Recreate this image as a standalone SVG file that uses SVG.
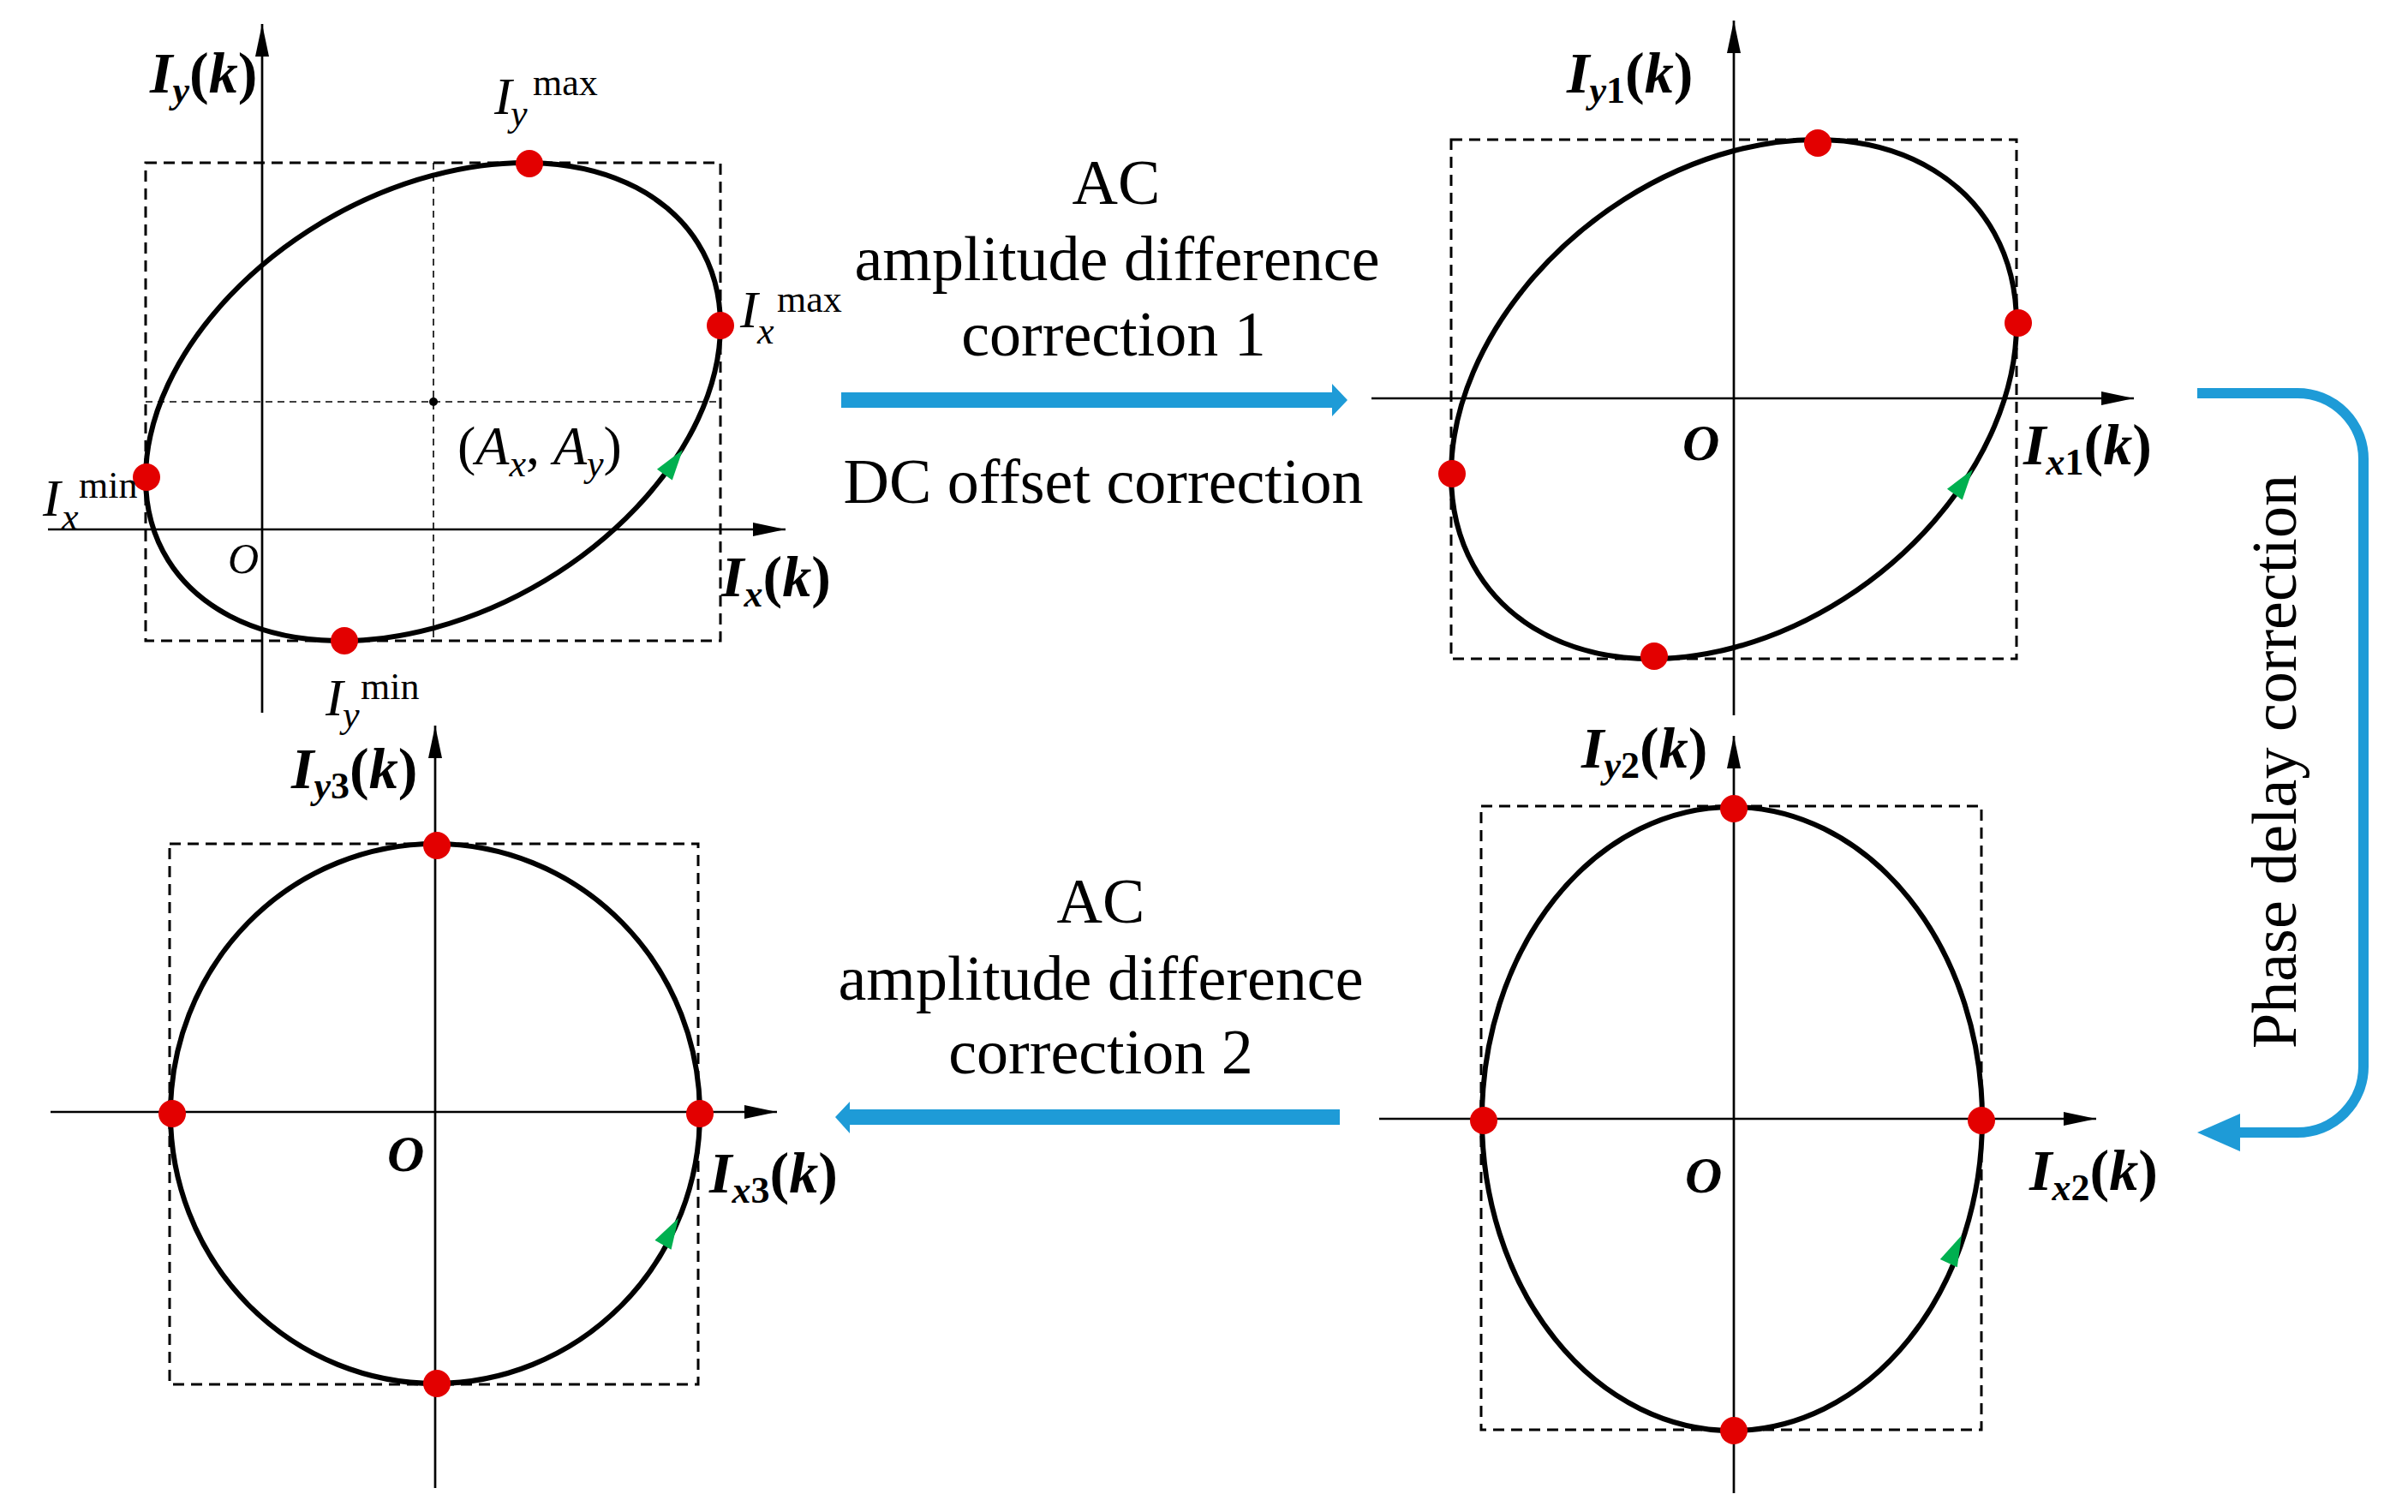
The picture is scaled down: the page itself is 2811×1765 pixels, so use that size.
<svg xmlns="http://www.w3.org/2000/svg" width="2811" height="1765" viewBox="0 0 2811 1765">
<style>
.axis{stroke:#000;stroke-width:2.7;fill:none}
.box{stroke:#000;stroke-width:3;fill:none;stroke-dasharray:13 8}
.guide{stroke:#000;stroke-width:1.6;fill:none;stroke-dasharray:8 6}
.curve{stroke:#000;stroke-width:6;fill:none}
.pt{fill:#E30000}
.dir{fill:#00B050}
.flow{fill:#1E9BD7}
.flowline{stroke:#1E9BD7;stroke-width:12;fill:none}
.lbl{font-family:"Liberation Serif","Times New Roman",serif;font-size:74px;fill:#000}
.axl{font-family:"Liberation Serif","Times New Roman",serif;font-size:68px;font-weight:bold;font-style:italic;fill:#000}
.ml{font-family:"Liberation Serif","Times New Roman",serif;font-size:62px;fill:#000}
.s{font-size:44px}
.it{font-style:italic}
.up{font-style:normal}
.org{font-family:"Liberation Serif","Times New Roman",serif;font-size:60px;font-weight:bold;font-style:italic;fill:#000}
</style>
<defs>
<marker id="ah" markerUnits="userSpaceOnUse" markerWidth="40" markerHeight="20" refX="38" refY="8" orient="auto">
<path d="M0,0 L38,8 L0,16 Z" fill="#000"/>
</marker>
<path id="garr" d="M0,0 L-36,-11 L-36,11 Z"/>
</defs>

<g id="panel1">
<rect class="box" x="170" y="190" width="671" height="558"/>
<path class="guide" d="M506,190 V748 M170,469 H841"/>
<path class="axis" d="M56,618 H917" marker-end="url(#ah)"/>
<path class="axis" d="M306,832 V28" marker-end="url(#ah)"/>
<path class="curve" d="M841,379.7 C841,233.7 690.8,155.4 505.5,204.7 C320.2,254 170,412.3 170,558.3 C170,704.3 320.2,782.6 505.5,733.3 C690.8,684 841,525.7 841,379.7 Z"/>
<circle cx="506" cy="469" r="5" fill="#000"/>
<circle class="pt" cx="618" cy="191" r="16"/>
<circle class="pt" cx="841" cy="380" r="16"/>
<circle class="pt" cx="171" cy="557" r="16"/>
<circle class="pt" cx="402" cy="748" r="16"/>
<use href="#garr" class="dir" transform="translate(797,525) rotate(-54)"/>
<text class="axl" x="175" y="108">I<tspan class="s" dy="12">y</tspan><tspan class="up" dy="-12">(</tspan>k<tspan class="up">)</tspan></text>
<text class="axl" x="842" y="696">I<tspan class="s" dy="12">x</tspan><tspan class="up" dy="-12">(</tspan>k<tspan class="up">)</tspan></text>
<text class="ml it" x="266" y="669" style="font-size:50px">O</text>
<text class="ml"><tspan class="it" x="577" y="133">I</tspan><tspan class="it s" x="596" y="147">y</tspan><tspan class="s" x="622" y="111">max</tspan></text>
<text class="ml"><tspan class="it" x="864" y="382">I</tspan><tspan class="it s" x="884" y="401">x</tspan><tspan class="s" x="907" y="364">max</tspan></text>
<text class="ml"><tspan class="it" x="50" y="602">I</tspan><tspan class="it s" x="72" y="618">x</tspan><tspan class="s" x="92" y="581">min</tspan></text>
<text class="ml"><tspan class="it" x="380" y="835">I</tspan><tspan class="it s" x="400" y="849">y</tspan><tspan class="s" x="421" y="816">min</tspan></text>
<text class="ml" x="534" y="542" style="font-size:64px">(<tspan class="it">A</tspan><tspan class="it s" dy="14">x</tspan><tspan dy="-14">, </tspan><tspan class="it">A</tspan><tspan class="it s" dy="14">y</tspan><tspan dy="-14">)</tspan></text>
</g>

<g id="panel2">
<rect class="box" x="1694" y="163" width="660" height="606"/>
<path class="axis" d="M1601,465 H2491" marker-end="url(#ah)"/>
<path class="axis" d="M2024,835 V24" marker-end="url(#ah)"/>
<path class="curve" d="M2354,378.1 C2354,217.9 2206.3,127.5 2024,176 C1841.7,224.5 1694,393.7 1694,553.9 C1694,714.1 1841.7,804.5 2024,756 C2206.3,707.5 2354,538.3 2354,378.1 Z"/>
<circle class="pt" cx="2122" cy="167" r="16"/>
<circle class="pt" cx="2356" cy="377" r="16"/>
<circle class="pt" cx="1695" cy="553" r="16"/>
<circle class="pt" cx="1931" cy="766" r="16"/>
<use href="#garr" class="dir" transform="translate(2303,548) rotate(-54)"/>
<text class="axl" x="1829" y="108">I<tspan class="s" dy="12">y<tspan class="up">1</tspan></tspan><tspan class="up" dy="-12">(</tspan>k<tspan class="up">)</tspan></text>
<text class="axl" x="2362" y="542">I<tspan class="s" dy="12">x<tspan class="up">1</tspan></tspan><tspan class="up" dy="-12">(</tspan>k<tspan class="up">)</tspan></text>
<text class="org" x="1964" y="537">O</text>
</g>

<g id="panel3">
<rect class="box" x="198" y="985" width="617" height="631"/>
<path class="axis" d="M59,1298 H907" marker-end="url(#ah)"/>
<path class="axis" d="M508,1737 V847" marker-end="url(#ah)"/>
<ellipse class="curve" cx="508" cy="1300" rx="309" ry="315"/>
<circle class="pt" cx="510" cy="987" r="16"/>
<circle class="pt" cx="201" cy="1300" r="16"/>
<circle class="pt" cx="817" cy="1300" r="16"/>
<circle class="pt" cx="510" cy="1615" r="16"/>
<use href="#garr" class="dir" transform="translate(792,1422) rotate(-60)"/>
<text class="axl" x="340" y="920">I<tspan class="s" dy="12">y<tspan class="up">3</tspan></tspan><tspan class="up" dy="-12">(</tspan>k<tspan class="up">)</tspan></text>
<text class="axl" x="828" y="1392">I<tspan class="s" dy="12">x<tspan class="up">3</tspan></tspan><tspan class="up" dy="-12">(</tspan>k<tspan class="up">)</tspan></text>
<text class="org" x="452" y="1367">O</text>
</g>

<g id="panel4">
<rect class="box" x="1729" y="941" width="584" height="728"/>
<path class="axis" d="M1610,1306 H2447" marker-end="url(#ah)"/>
<path class="axis" d="M2024,1743 V859" marker-end="url(#ah)"/>
<ellipse class="curve" cx="2022" cy="1306" rx="292" ry="364"/>
<circle class="pt" cx="2024" cy="944" r="16"/>
<circle class="pt" cx="1732" cy="1308" r="16"/>
<circle class="pt" cx="2313" cy="1308" r="16"/>
<circle class="pt" cx="2024" cy="1670" r="16"/>
<use href="#garr" class="dir" transform="translate(2290,1442) rotate(-65)"/>
<text class="axl" x="1846" y="896">I<tspan class="s" dy="12">y<tspan class="up">2</tspan></tspan><tspan class="up" dy="-12">(</tspan>k<tspan class="up">)</tspan></text>
<text class="axl" x="2369" y="1389">I<tspan class="s" dy="12">x<tspan class="up">2</tspan></tspan><tspan class="up" dy="-12">(</tspan>k<tspan class="up">)</tspan></text>
<text class="org" x="1967" y="1392">O</text>
</g>

<g id="connectors">
<path class="flow" d="M982,458 H1555 V448 L1573,467 L1555,486 V476 H982 Z"/>
<text class="lbl" text-anchor="middle" x="1303" y="238">AC</text>
<text class="lbl" text-anchor="middle" x="1304" y="327">amplitude difference</text>
<text class="lbl" text-anchor="middle" x="1300" y="415">correction 1</text>
<text class="lbl" text-anchor="middle" x="1288" y="587">DC offset correction</text>
<path class="flowline" d="M2565,459 H2682 A77,77 0 0 1 2759,536 V1245 A77,77 0 0 1 2682,1322 H2610"/>
<path class="flow" d="M2615,1300 L2565,1322 L2615,1344 Z"/>
<text class="lbl" text-anchor="middle" transform="translate(2680,889) rotate(-90)">Phase delay correction</text>
<path class="flow" d="M1564,1295 H992 V1286 L975,1304 L992,1323 V1313 H1564 Z"/>
<text class="lbl" text-anchor="middle" x="1285" y="1077">AC</text>
<text class="lbl" text-anchor="middle" x="1285" y="1167">amplitude difference</text>
<text class="lbl" text-anchor="middle" x="1285" y="1253">correction 2</text>
</g>
</svg>
